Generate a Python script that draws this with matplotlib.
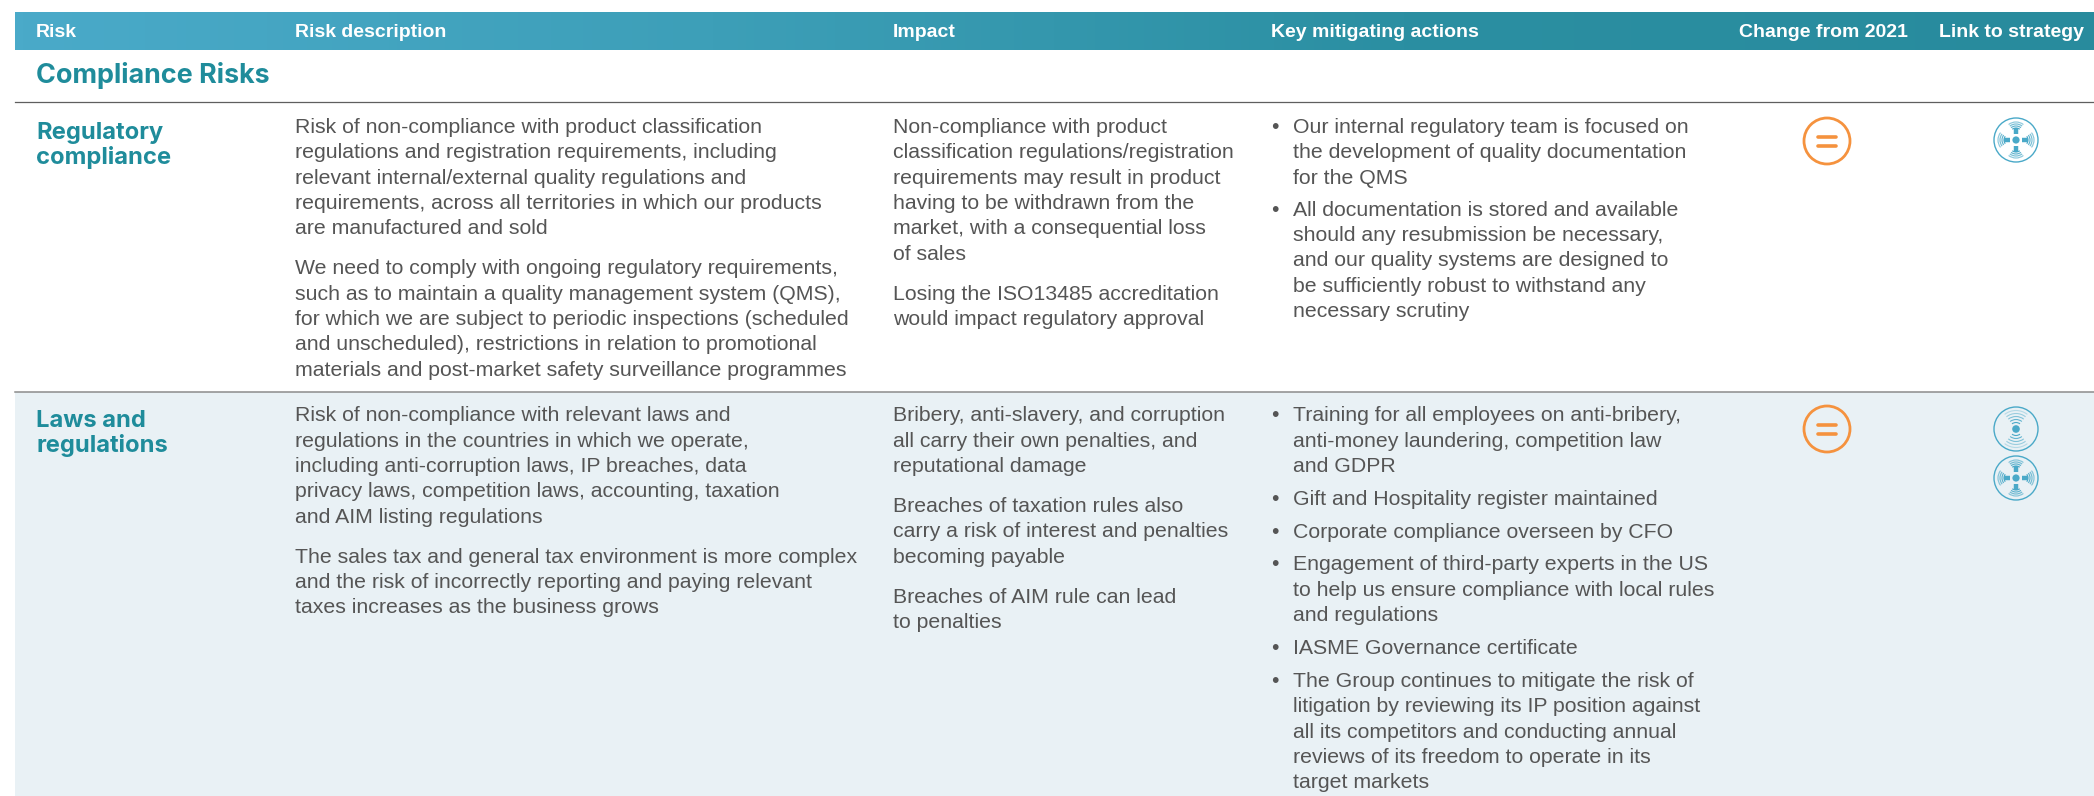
import numpy as np
import matplotlib
matplotlib.use("Agg")
import matplotlib.pyplot as plt
from matplotlib.patches import Circle, Arc, Rectangle
from matplotlib.colors import LinearSegmentedColormap

# ---------- content ----------
headers = ["Risk", "Risk description", "Impact", "Key mitigating actions", "Change from 2021", "Link to strategy"]
section = "Compliance Risks"

risk_1 = ["Regulatory", "compliance"]
desc_1 = [["Risk of non-compliance with product classification",
           "regulations and registration requirements, including",
           "relevant internal/external quality regulations and",
           "requirements, across all territories in which our products",
           "are manufactured and sold"],
          ["We need to comply with ongoing regulatory requirements,",
           "such as to maintain a quality management system (QMS),",
           "for which we are subject to periodic inspections (scheduled",
           "and unscheduled), restrictions in relation to promotional",
           "materials and post-market safety surveillance programmes"]]
impact_1 = [["Non-compliance with product",
             "classification regulations/registration",
             "requirements may result in product",
             "having to be withdrawn from the",
             "market, with a consequential loss",
             "of sales"],
            ["Losing the ISO13485 accreditation",
             "would impact regulatory approval"]]
actions_1 = [["Our internal regulatory team is focused on",
              "the development of quality documentation",
              "for the QMS"],
             ["All documentation is stored and available",
              "should any resubmission be necessary,",
              "and our quality systems are designed to",
              "be sufficiently robust to withstand any",
              "necessary scrutiny"]]

risk_2 = ["Laws and", "regulations"]
desc_2 = [["Risk of non-compliance with relevant laws and",
           "regulations in the countries in which we operate,",
           "including anti-corruption laws, IP breaches, data",
           "privacy laws, competition laws, accounting, taxation",
           "and AIM listing regulations"],
          ["The sales tax and general tax environment is more complex",
           "and the risk of incorrectly reporting and paying relevant",
           "taxes increases as the business grows"]]
impact_2 = [["Bribery, anti-slavery, and corruption",
             "all carry their own penalties, and",
             "reputational damage"],
            ["Breaches of taxation rules also",
             "carry a risk of interest and penalties",
             "becoming payable"],
            ["Breaches of AIM rule can lead",
             "to penalties"]]
actions_2 = [["Training for all employees on anti-bribery,",
              "anti-money laundering, competition law",
              "and GDPR"],
             ["Gift and Hospitality register maintained"],
             ["Corporate compliance overseen by CFO"],
             ["Engagement of third-party experts in the US",
              "to help us ensure compliance with local rules",
              "and regulations"],
             ["IASME Governance certificate"],
             ["The Group continues to mitigate the risk of",
              "litigation by reviewing its IP position against",
              "all its competitors and conducting annual",
              "reviews of its freedom to operate in its",
              "target markets"]]

# ---------- canvas in pixel coordinates ----------
W, H = 2094, 796
fig = plt.figure(figsize=(W / 100, H / 100), dpi=100)
ax = fig.add_axes([0, 0, 1, 1])
ax.set_xlim(0, W)
ax.set_ylim(H, 0)
ax.axis('off')

TEAL = '#1f8c9b'
GREY = '#555555'
ORANGE = '#f5923e'
BLUE = '#4aa9c8'
BODY = 'Liberation Sans'
PITCH = 25.4

# header band
cmap = LinearSegmentedColormap.from_list('band', ['#4aaac9', '#3d9fb8', '#2b8fa2', '#288b9d'])
ax.imshow(np.linspace(0, 1, 512).reshape(1, -1), extent=(15, W, 50, 12), cmap=cmap,
          aspect='auto', zorder=1)
ax.set_xlim(0, W)
ax.set_ylim(H, 0)

# second row background and rules
ax.add_patch(Rectangle((15, 392), W - 15, H - 392, color='#e9f1f5', lw=0, zorder=0))
ax.plot([15, W], [102, 102], color='#5f5f5f', lw=0.9, zorder=2)
ax.plot([15, W], [391.5, 391.5], color='#8c8c8c', lw=1.1, zorder=2)

# header labels
header_x = [36, 295, 893, 1271, 1739, 1939]
for x, label in zip(header_x, headers):
    ax.text(x, 36.7, label, color='white', fontsize=14.0, fontweight='bold', family=BODY, va='baseline')

ax.text(36, 83, section, color=TEAL, fontsize=19.4, fontweight='bold', family='Inter', va='baseline')


def heading(lines, y):
    for i, line in enumerate(lines):
        ax.text(36, y + i * PITCH, line, color=TEAL, fontsize=17.1, fontweight='bold',
                family='Inter', va='baseline')


def column(paragraphs, x, y, gap, bullet=False):
    for para in paragraphs:
        if bullet:
            ax.text(1271, y, '\u2022', color=GREY, fontsize=15.3, family=BODY, va='baseline')
        for line in para:
            ax.text(x, y, line, color=GREY, fontsize=15.3, family=BODY, va='baseline')
            y += PITCH
        y += gap


def change_icon(cx, cy):
    ax.add_patch(Circle((cx, cy), 23, fill=False, ec=ORANGE, lw=2.0, zorder=3))
    for dy in (-4.5, 4.5):
        ax.plot([cx - 9, cx + 9], [cy + dy, cy + dy], color=ORANGE, lw=2.6,
                solid_capstyle='round', zorder=3)


def strategy_icon(cx, cy, four=True):
    ax.add_patch(Circle((cx, cy), 22, fill=False, ec=BLUE, lw=1.0, zorder=3))
    if four:
        ax.add_patch(Circle((cx, cy), 3.6, color=BLUE, lw=0, zorder=3))
        for a in (0, 90, 180, 270):
            ux, uy = np.cos(np.radians(a)), np.sin(np.radians(a))
            ax.plot([cx + 6 * ux, cx + 12 * ux], [cy + 6 * uy, cy + 12 * uy], color=BLUE,
                    lw=3.2, solid_capstyle='butt', zorder=3)
            for i, r in enumerate((6, 8, 10, 12)):
                ax.add_patch(Arc((cx + 6 * ux, cy + 6 * uy), 2 * r, 2 * r, angle=a,
                                 theta1=-38, theta2=38, color=BLUE, lw=0.85,
                                 alpha=1 - i * 0.12, zorder=3))
    else:
        ax.add_patch(Circle((cx, cy), 3.8, color=BLUE, lw=0, zorder=3))
        for a in (90, 270):
            for i, r in enumerate((6.5, 9.5, 12.5, 15.5, 18.5)):
                ax.add_patch(Arc((cx, cy), 2 * r, 2 * r, angle=a, theta1=-38, theta2=38, color=BLUE,
                                 lw=0.8, alpha=1 - i * 0.17, zorder=3))


# ---------- rows ----------
heading(risk_1, 139)
column(desc_1, 295, 132.8, 14.5)
column(impact_1, 893, 132.8, 14.5)
column(actions_1, 1293, 132.8, 6.5, bullet=True)
change_icon(1827, 141)
strategy_icon(2016, 140)

heading(risk_2, 427)
column(desc_2, 295, 421.2, 14.5)
column(impact_2, 893, 421.2, 14.5)
column(actions_2, 1293, 421.2, 7.4, bullet=True)
change_icon(1827, 429)
strategy_icon(2016, 429, four=False)
strategy_icon(2016, 478)

fig.savefig('out.png', dpi=100)
